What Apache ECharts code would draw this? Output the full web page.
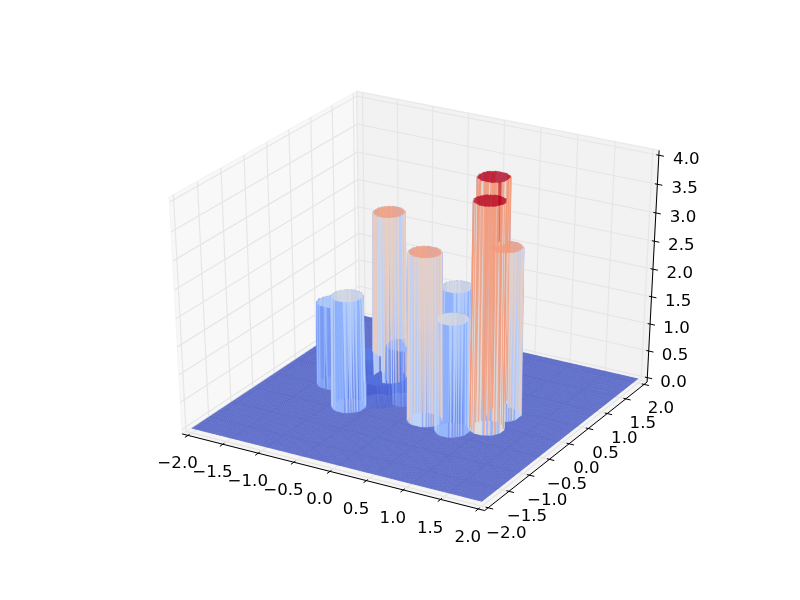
<!DOCTYPE html>
<html><head><meta charset="utf-8">
<style>html,body{margin:0;padding:0;background:#fff}#c{width:800px;height:600px}</style>
<script src="https://cdn.jsdelivr.net/npm/echarts@6/dist/echarts.min.js"></script>
</head><body><div id="c"></div>
<script>
// Values
const columnX      = [-0.70, -0.70, -1.20, -0.45, -0.22, -0.88, 0.31, 0.30, 0.74, 0.74, 1.07, 1.06];
const columnY      = [-0.49,  0.51,  0.00, -0.18,  0.00,  0.25, -0.38, 0.41, -0.47, 0.48, -0.21, 0.235];
const columnHeight = [ 2.0,   3.0,   1.5,   0.4,   1.0,   0.5,  3.0,  2.0,  2.0,  4.0,  4.0,  3.0];
const columnRadius = 0.2;
const meshStep = 0.02;
const xTicks = [-2,-1.5,-1,-0.5,0,0.5,1,1.5,2];
const yTicks = [-2,-1.5,-1,-0.5,0,0.5,1,1.5,2];
const zTicks = [0,0.5,1,1.5,2,2.5,3,3.5,4];
const coolwarm = [[59,76,192],[98,130,234],[141,176,254],[183,207,249],[221,220,220],[245,193,169],[244,154,123],[221,95,75],[180,4,38]];
const surfaceAlpha = 0.8;

// matplotlib-style view
const DIST=10, XL=-2, XH=2, YL=-2, YH=2, ZL=0, ZH=4;
const el=30*Math.PI/180, az=-60*Math.PI/180;
const n=[Math.cos(az)*Math.cos(el),Math.sin(az)*Math.cos(el),Math.sin(el)];
const ul=Math.hypot(n[1],n[0]);
const u=[-n[1]/ul,n[0]/ul,0];
const v=[n[1]*u[2]-n[2]*u[1],n[2]*u[0]-n[0]*u[2],n[0]*u[1]-n[1]*u[0]];
function view(x,y,z){
  const a=(x-XL)/(XH-XL)-.5,b=(y-YL)/(YH-YL)-.5,c=(z-ZL)/(ZH-ZL)-.5;
  const w=DIST-(n[0]*a+n[1]*b+n[2]*c);
  return [(u[0]*a+u[1]*b+u[2]*c)/w,(v[0]*a+v[1]*b+v[2]*c)/w,w];
}
const pad=1/48;
const xa=XL-(XH-XL)*pad, xb=XH+(XH-XL)*pad, ya=YL-(YH-YL)*pad, yb=YH+(YH-YL)*pad, za=ZL-(ZH-ZL)*pad, zb=ZH+(ZH-ZL)*pad;
const labelD=0.0606;
const lx=(XH-XL)*labelD, ly=(YH-YL)*labelD, lz=(ZH-ZL)*labelD;
const tick=[(XH-XL)/12,(YH-YL)/12];

function color(t){
  t=Math.max(0,Math.min(1,t))*(coolwarm.length-1);
  const i=Math.min(Math.floor(t),coolwarm.length-2),f=t-i,p=coolwarm[i],q=coolwarm[i+1];
  return 'rgba('+[0,1,2].map(k=>Math.round(p[k]+(q[k]-p[k])*f)).join(',')+','+surfaceAlpha+')';
}
// surface mesh
const N=Math.round((XH-XL)/meshStep);
const gridZ=[];
for(let i=0;i<=N;i++){const r=[];const x=XL+i*meshStep;
  for(let j=0;j<=N;j++){const y=YL+j*meshStep;let h=0;
    for(let k=0;k<columnX.length;k++){
      if(Math.hypot(x-columnX[k],y-columnY[k])<=columnRadius) h=Math.max(h,columnHeight[k]);
    }
    r.push(h);}
  gridZ.push(r);}
const quads=[];
for(let i=0;i<N;i++)for(let j=0;j<N;j++){
  const cs=[[i,j],[i+1,j],[i+1,j+1],[i,j+1]];
  let d=0,s=0,lo=Infinity,hi=-Infinity;
  const pts=cs.map(c=>{const x=XL+c[0]*meshStep,y=YL+c[1]*meshStep,z=gridZ[c[0]][c[1]];const p=view(x,y,z);d+=p[2];s+=z;lo=Math.min(lo,z);hi=Math.max(hi,z);return [p[0],p[1]];});
  quads.push({pts,d:d/4,fill:color((s/4-ZL)/(ZH-ZL)),flat:lo===hi});
}
quads.sort((p,q)=>q.d-p.d);

// panes and grid
function line3(ps){return ps.map(p=>{const q=view(p[0],p[1],p[2]);return [q[0],q[1]];});}
const panes=[
 {pts:line3([[xa,ya,za],[xa,yb,za],[xa,yb,zb],[xa,ya,zb]]),c:'242,242,242'},
 {pts:line3([[xa,yb,za],[xb,yb,za],[xb,yb,zb],[xa,yb,zb]]),c:'230,230,230'},
 {pts:line3([[xa,ya,za],[xb,ya,za],[xb,yb,za],[xa,yb,za]]),c:'236,236,236'}];
const gridLines=[];
xTicks.forEach(t=>gridLines.push(line3([[t,ya,za],[t,yb,za],[t,yb,zb]])));
yTicks.forEach(t=>gridLines.push(line3([[xb,t,za],[xa,t,za],[xa,t,zb]])));
zTicks.forEach(t=>gridLines.push(line3([[xb,yb,t],[xa,yb,t],[xa,ya,t]])));
// axis lines + ticks
const axisLines=[
  line3([[xa,ya,za],[xb,ya,za]]),
  line3([[xb,yb,za],[xb,ya,za]]),
  line3([[xb,yb,za],[xb,yb,zb]])];
xTicks.forEach(t=>axisLines.push(line3([[t,ya+.1*tick[1],za],[t,ya-.2*tick[1],za]])));
yTicks.forEach(t=>axisLines.push(line3([[xb-.1*tick[0],t,za],[xb+.2*tick[0],t,za]])));
zTicks.forEach(t=>axisLines.push(line3([[xb-.1*tick[0],yb,t],[xb+.2*tick[0],yb,t]])));
// labels
const fmt=t=>(t<0?'\u2212':'')+Math.abs(t).toFixed(1);
const labels=[];
xTicks.forEach(t=>labels.push({p:view(t,ya-ly,za-lz),s:fmt(t)}));
yTicks.forEach(t=>labels.push({p:view(xb+lx,t,za-lz),s:fmt(t)}));
zTicks.forEach(t=>labels.push({p:view(xb+lx,yb+ly,t),s:fmt(t)}));

const ids=a=>a.map((_,i)=>[i]);
const chart=echarts.init(document.getElementById('c'),null,{renderer:'canvas',width:800,height:600});
chart.setOption({
  animation:false,backgroundColor:'#fff',
  grid:{left:100,top:60,width:620,height:480},
  xAxis:{type:'value',min:-0.095,max:0.09,show:false},
  yAxis:{type:'value',min:-0.095,max:0.09,show:false},
  tooltip:{show:false},
  series:[
   {type:'custom',data:ids(panes),silent:true,progressive:0,animation:false,renderItem:(p,api)=>{
     const o=panes[p.dataIndex];
     return {type:'polygon',shape:{points:o.pts.map(q=>api.coord(q))},style:{fill:'rgba('+o.c+',0.5)',stroke:'rgba('+o.c+',0.8)',lineWidth:1.4},silent:true};
   }},
   {type:'custom',data:ids(gridLines),silent:true,progressive:0,animation:false,renderItem:(p,api)=>({
     type:'polyline',shape:{points:gridLines[p.dataIndex].map(q=>api.coord(q))},style:{fill:null,stroke:'rgb(230,230,230)',lineWidth:1.2},silent:true})},
   {type:'custom',data:ids(axisLines),silent:true,progressive:0,animation:false,renderItem:(p,api)=>({
     type:'polyline',shape:{points:axisLines[p.dataIndex].map(q=>api.coord(q))},style:{fill:null,stroke:'#000',lineWidth:1},silent:true})},
   {type:'custom',data:ids(quads),silent:true,progressive:0,animation:false,renderItem:(p,api)=>{
     const o=quads[p.dataIndex];
     return {type:'polygon',shape:{points:o.pts.map(q=>api.coord(q))},style:{fill:o.fill,stroke:o.fill,lineWidth:o.flat?0.12:0.65},silent:true};
   }},
   {type:'custom',data:ids(labels),silent:true,progressive:0,animation:false,renderItem:(p,api)=>{
     const o=labels[p.dataIndex],c=api.coord([o.p[0],o.p[1]]);
     return {type:'text',x:c[0],y:c[1]+7.5,style:{text:o.s,x:0,y:0,fill:'#000',font:"16.67px 'DejaVu Sans'",align:'center',verticalAlign:'middle'},silent:true};
   }}
  ]
});
</script></body></html>
